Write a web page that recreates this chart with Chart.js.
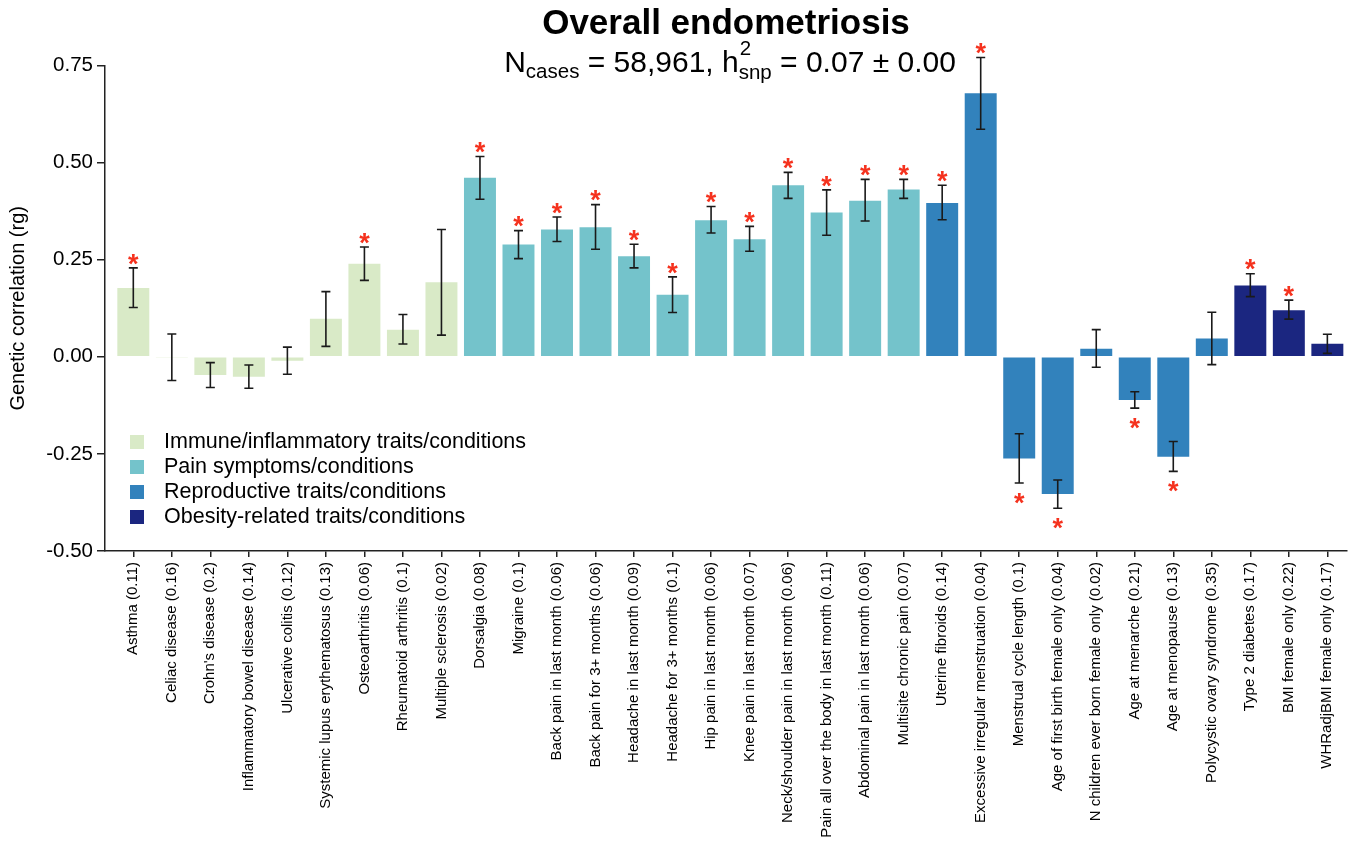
<!DOCTYPE html>
<html><head><meta charset="utf-8">
<script src="https://cdn.jsdelivr.net/npm/chart.js@4.4.1/dist/chart.umd.min.js"></script>
<style>html,body{margin:0;padding:0;background:#fff;}#wrap{width:1355px;height:842px;position:relative;}</style>
</head><body><div id="wrap"><canvas id="c"></canvas></div>
<script>
const categories = [
  'Asthma (0.11)','Celiac disease (0.16)',"Crohn's disease (0.2)",'Inflammatory bowel disease (0.14)',
  'Ulcerative colitis (0.12)','Systemic lupus erythematosus (0.13)','Osteoarthritis (0.06)',
  'Rheumatoid arthritis (0.1)','Multiple sclerosis (0.02)','Dorsalgia (0.08)','Migraine (0.1)',
  'Back pain in last month (0.06)','Back pain for 3+ months (0.06)','Headache in last month (0.09)',
  'Headache for 3+ months (0.1)','Hip pain in last month (0.06)','Knee pain in last month (0.07)',
  'Neck/shoulder pain in last month (0.06)','Pain all over the body in last month (0.11)',
  'Abdominal pain in last month (0.06)','Multisite chronic pain (0.07)','Uterine fibroids (0.14)',
  'Excessive irregular menstruation (0.04)','Menstrual cycle length (0.1)',
  'Age of first birth female only (0.04)','N children ever born female only (0.02)',
  'Age at menarche (0.21)','Age at menopause (0.13)','Polycystic ovary syndrome (0.35)',
  'Type 2 diabetes (0.17)','BMI female only (0.22)','WHRadjBMI female only (0.17)'
];
const groupIndex = [0,0,0,0,0,0,0,0,0, 1,1,1,1,1,1,1,1,1,1,1,1, 2,2,2,2,2,2,2,2, 3,3,3];
const groupNames = ['Immune/inflammatory traits/conditions','Pain symptoms/conditions','Reproductive traits/conditions','Obesity-related traits/conditions'];
const groupColors = ['#d9eac7','#74c3cb','#3282bc','#1b2680'];
const rgValues = [0.177,-0.001,-0.047,-0.051,-0.010,0.098,0.240,0.070,0.192,0.461,0.289,0.328,0.334,0.259,0.160,0.352,0.303,0.442,0.372,0.402,0.431,0.396,0.679,-0.262,-0.353,0.021,-0.111,-0.257,0.047,0.184,0.120,0.034];
const ciLower = [0.127,-0.061,-0.079,-0.081,-0.045,0.027,0.197,0.033,0.056,0.406,0.253,0.297,0.277,0.229,0.114,0.319,0.272,0.408,0.313,0.350,0.408,0.353,0.586,-0.325,-0.390,-0.027,-0.132,-0.295,-0.020,0.155,0.097,0.009];
const ciUpper = [0.229,0.059,-0.015,-0.021,0.025,0.168,0.283,0.109,0.328,0.516,0.325,0.360,0.392,0.290,0.206,0.387,0.336,0.475,0.430,0.457,0.457,0.442,0.771,-0.198,-0.317,0.070,-0.090,-0.218,0.115,0.214,0.146,0.058];
const significant = [1,0,0,0,0,0,1,0,0,1,1,1,1,1,1,1,1,1,1,1,1,1,1,1,1,0,1,1,0,1,1,0];
const yTickValues = [-0.5,-0.25,0,0.25,0.5,0.75];
const titleText = 'Overall endometriosis';
const nCases = '58,961';
const h2snp = '0.07 \u00b1 0.00';
const yAxisTitle = 'Genetic correlation (rg)';

const FONT = '"Liberation Sans", Arial, Helvetica, sans-serif';
Chart.defaults.font.family = FONT;
Chart.defaults.color = '#000';

const errorBarPlugin = {
  id: 'errorBars',
  afterDatasetsDraw(chart) {
    const {ctx, scales: {x, y}} = chart;
    ctx.save();
    ctx.strokeStyle = '#1a1a1a';
    ctx.lineWidth = 1.6;
    categories.forEach((_, i) => {
      const px = x.getPixelForValue(i);
      const lo = y.getPixelForValue(ciLower[i]);
      const hi = y.getPixelForValue(ciUpper[i]);
      ctx.beginPath();
      ctx.moveTo(px, lo); ctx.lineTo(px, hi);
      ctx.moveTo(px - 4.5, lo); ctx.lineTo(px + 4.5, lo);
      ctx.moveTo(px - 4.5, hi); ctx.lineTo(px + 4.5, hi);
      ctx.stroke();
      if (significant[i]) {
        const size = 27;
        ctx.fillStyle = '#f5321e';
        ctx.font = 'bold ' + size + 'px ' + FONT;
        ctx.textAlign = 'center';
        ctx.textBaseline = 'alphabetic';
        const cy = rgValues[i] >= 0 ? hi - 11 : lo + 13;
        ctx.fillText('*', px, cy + 0.58 * size);
      }
    });
    ctx.restore();
  }
};

const subtitlePlugin = {
  id: 'subtitleFormula',
  afterDraw(chart) {
    const ctx = chart.ctx;
    const big = '30px ' + FONT;
    const small = '20.5px ' + FONT;
    const parts = [
      {t: 'N', f: big, dy: 0},
      {t: 'cases', f: small, dy: 6},
      {t: ' = ' + nCases + ', h', f: big, dy: 0},
      {t: 'snp', f: small, dy: 7, sup: '2', supDy: -17},
      {t: ' = ' + h2snp, f: big, dy: 0}
    ];
    ctx.save();
    let total = 0;
    parts.forEach(p => { ctx.font = p.f; p.w = ctx.measureText(p.t).width; total += p.w; });
    const ca = chart.chartArea;
    let xPos = (ca.left + ca.right) / 2 + 4 - total / 2;
    const baseline = 72;
    ctx.fillStyle = '#000';
    ctx.textAlign = 'left';
    ctx.textBaseline = 'alphabetic';
    parts.forEach(p => {
      ctx.font = p.f;
      ctx.fillText(p.t, xPos, baseline + p.dy);
      if (p.sup) ctx.fillText(p.sup, xPos + 1, baseline + p.supDy);
      xPos += p.w;
    });
    ctx.restore();
  }
};

const groupLegendPlugin = {
  id: 'groupLegend',
  afterDraw(chart) {
    const ctx = chart.ctx;
    const ca = chart.chartArea;
    ctx.save();
    ctx.font = '21.5px ' + FONT;
    ctx.textAlign = 'left';
    ctx.textBaseline = 'middle';
    groupNames.forEach((name, k) => {
      const top = ca.bottom - 116 + 25 * k;
      ctx.fillStyle = groupColors[k];
      ctx.fillRect(ca.left + 25, top, 14, 14);
      ctx.fillStyle = '#000';
      ctx.fillText(name, ca.left + 59, top + 7.5);
    });
    ctx.restore();
  }
};

new Chart(document.getElementById('c'), {
  type: 'bar',
  data: {
    datasets: [{
      data: categories.map((c, i) => ({x: i, y: rgValues[i]})),
      backgroundColor: categories.map((c, i) => groupColors[groupIndex[i]]),
      borderWidth: 0,
      barPercentage: 0.83,
      categoryPercentage: 1.0
    }]
  },
  options: {
    responsive: true,
    maintainAspectRatio: false,
    animation: false,
    layout: {padding: {top: 0, right: 8, bottom: 0, left: 0}},
    plugins: {
      legend: {display: false},
      tooltip: {enabled: false},
      title: {
        display: true, text: titleText, fullSize: false, color: '#000',
        font: {size: 35, weight: 'bold'},
        padding: {top: 3, bottom: 20.6}
      }
    },
    scales: {
      x: {
        type: 'linear', min: -0.735, max: 31.51, offset: false,
        afterBuildTicks: s => { s.ticks = categories.map((_, i) => ({value: i})); },
        afterFit: s => { s.height = 291; },
        ticks: {
          autoSkip: false, maxRotation: 90, minRotation: 90, color: '#000',
          font: {size: 15}, padding: 5,
          callback: v => categories[v]
        },
        grid: {offset: false, drawOnChartArea: false, drawTicks: true, tickLength: 6, color: '#222', lineWidth: 1.5},
        border: {display: true, color: '#222', width: 1.5}
      },
      y: {
        min: -0.5, max: 0.75,
        afterBuildTicks: s => { s.ticks = yTickValues.map(v => ({value: v})); },
        afterFit: s => { s.width = 105; },
        ticks: {color: '#000', font: {size: 20.5}, padding: 4, callback: v => Number(v).toFixed(2)},
        grid: {drawOnChartArea: false, drawTicks: true, tickLength: 8, color: '#222', lineWidth: 1.5},
        border: {display: true, color: '#222', width: 1.5},
        title: {display: true, text: yAxisTitle, color: '#000', font: {size: 20}, padding: {top: 6, bottom: 0}}
      }
    }
  },
  plugins: [errorBarPlugin, subtitlePlugin, groupLegendPlugin]
});
</script>
</body></html>
